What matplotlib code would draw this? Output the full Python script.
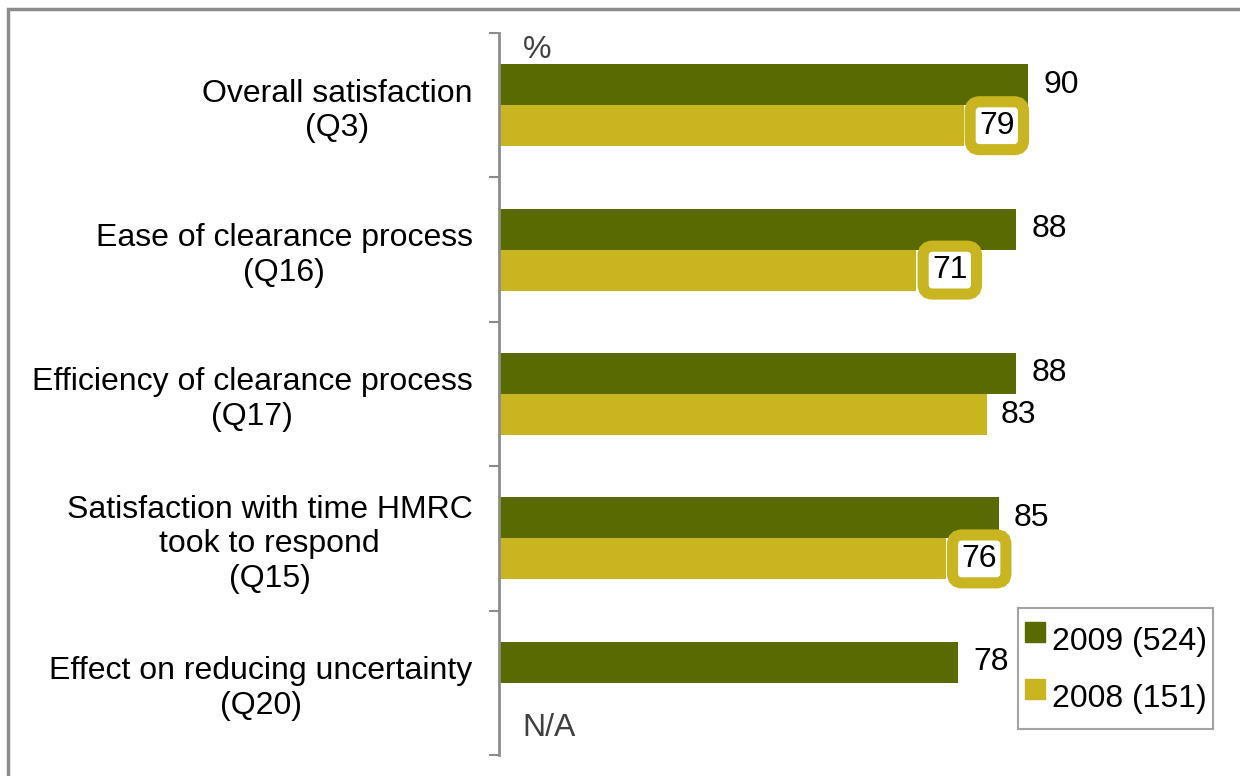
import matplotlib.pyplot as plt
from matplotlib.lines import Line2D
from matplotlib.patches import Rectangle
import numpy as np

# chart data
categories = [
    "Overall satisfaction\n(Q3)",
    "Ease of clearance process\n(Q16)",
    "Efficiency of clearance process\n(Q17)",
    "Satisfaction with time HMRC\ntook to respond\n(Q15)",
    "Effect on reducing uncertainty\n(Q20)",
]
series_names = ["2009 (524)", "2008 (151)"]
values_2009 = [90, 88, 88, 85, 78]
values_2008 = [79, 71, 83, 76, np.nan]
highlight_2008 = [True, True, False, True, False]

dark = "#596b00"
gold = "#c9b51f"
grey = "#8c8c8c"

plt.rcParams["font.family"] = ["Liberation Sans", "DejaVu Sans"]
FS = 23

W, H = 1240, 776
fig = plt.figure(figsize=(W / 100, H / 100), dpi=100)
ax = fig.add_axes([499 / W, 1 - 755 / H, 735 / W, 722 / H])

y = np.arange(len(categories))
bh = 0.284
ax.barh(y - bh / 2, values_2009, height=bh, color=dark, label=series_names[0])
ax.barh(y + bh / 2, values_2008, height=bh, color=gold, label=series_names[1])

ax.set_xlim(0, 125)
ax.set_ylim(len(categories) - 0.5, -0.5)

# value labels
for i, v in enumerate(values_2009):
    ax.annotate(str(v), (v, i - bh / 2), xytext=(11, 0), textcoords="offset points",
                ha="left", va="center", fontsize=FS)
for i, v in enumerate(values_2008):
    if np.isnan(v):
        ax.annotate("N/A", (0, i + bh / 2), xytext=(17, -18), textcoords="offset points",
                    ha="left", va="center", fontsize=FS, color="#404040")
    elif highlight_2008[i]:
        ax.annotate(str(v), (v, i + bh / 2), xytext=(24, 0), textcoords="offset points",
                    ha="center", va="center", fontsize=FS,
                    bbox=dict(boxstyle="round,pad=0.28,rounding_size=0.3",
                              fc="white", ec=gold, lw=8))
    else:
        ax.annotate(str(v), (v, i + bh / 2), xytext=(10, 0), textcoords="offset points",
                    ha="left", va="center", fontsize=FS)

ax.text(24 / 735, 0.997, "%", transform=ax.transAxes, ha="left", va="top",
        fontsize=FS, color="#404040")

# axes styling
for s in ["top", "right", "bottom"]:
    ax.spines[s].set_visible(False)
ax.spines["left"].set_color(grey)
ax.spines["left"].set_linewidth(2)
ax.set_xticks([])
ax.set_yticks(y)
ax.set_yticklabels(categories, fontsize=FS, linespacing=1.2)
for t in ax.get_yticklabels():
    t.set_multialignment("center")
ax.tick_params(axis="y", which="major", length=0, pad=19)
ax.set_yticks(np.arange(len(categories) + 1) - 0.5, minor=True)
ax.tick_params(axis="y", which="minor", length=7, width=1.5, color=grey)

handles = [Line2D([], [], marker="s", linestyle="none", markersize=14, color=c)
           for c in (dark, gold)]
leg = fig.legend(handles, series_names, loc="upper left",
                 bbox_to_anchor=(1018 / W, 1 - 608 / H), bbox_transform=fig.transFigure,
                 borderaxespad=0, fontsize=FS, frameon=True, fancybox=False,
                 edgecolor=grey, handlelength=0.65, handleheight=2.05,
                 handletextpad=0.2, labelspacing=0.22, borderpad=0.2)
leg.get_frame().set_linewidth(1.5)

# outer frame (left and top edges visible)
fig.add_artist(Rectangle((8 / W, -0.1), 1.2, 1 - 9 / H + 0.1, transform=fig.transFigure,
                         fill=False, ec=grey, lw=2.5, clip_on=False))

fig.savefig("out.png", dpi=100, facecolor="white")
